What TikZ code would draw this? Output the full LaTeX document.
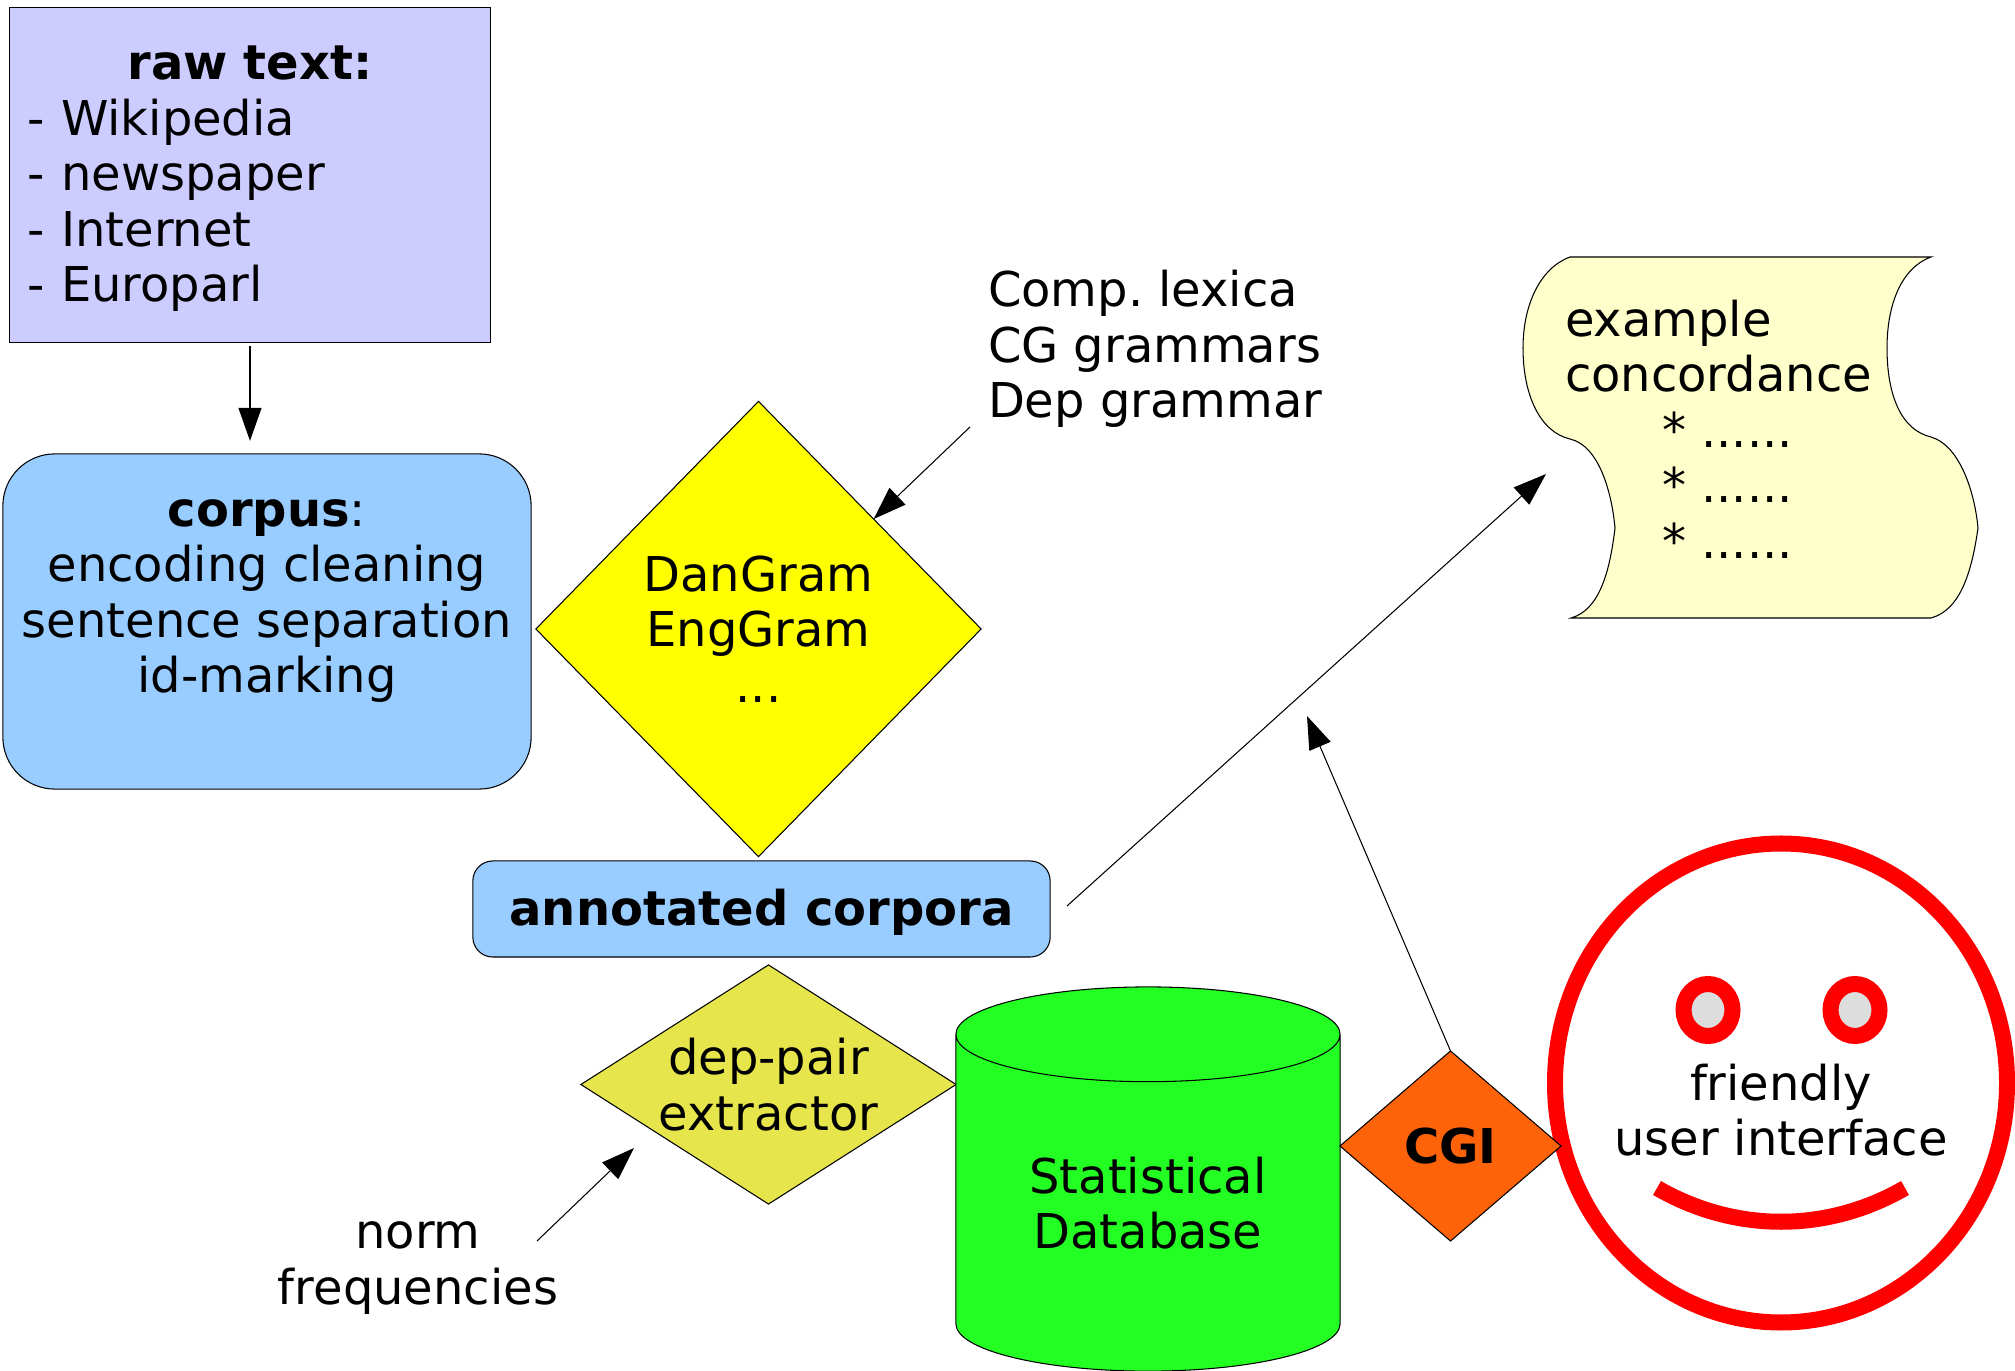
\documentclass[tikz,border=0pt]{standalone}
\usepackage{fontspec}
\setmainfont{DejaVu Sans}
\usetikzlibrary{arrows.meta,shapes.geometric}
\definecolor{rawblue}{HTML}{CCCCFF}
\definecolor{corpusblue}{HTML}{99CCFF}
\definecolor{gramyellow}{RGB}{255,255,0}
\definecolor{depolive}{HTML}{E6E64C}
\definecolor{dbgreen}{HTML}{23FF23}
\definecolor{cgiorange}{HTML}{FF6309}
\definecolor{scrollyellow}{HTML}{FFFFCC}

\begin{document}
\begin{tikzpicture}[x=0.01cm,y=-0.01cm,>={Triangle[length=3.3mm,width=2.3mm]},line width=0.3pt,
        every node/.style={font=\fontsize{13.64}{15.8}\selectfont\frenchspacing,align=center,inner sep=0pt,outer sep=0pt},
        box/.style={draw,rectangle},
        rhomb/.style={draw,diamond},
        face/.style={draw=red,line width=0.16cm}]
        \useasboundingbox (0,0) rectangle (2015,1371);

        \node[box,fill=rawblue,minimum width=4.8cm,minimum height=3.35cm,text width=4.44cm,align=left,text depth=63.85pt] (raw) at (250,175)
            {\makebox[\linewidth][c]{\textbf{raw text:}}\\- Wikipedia\\- newspaper\\- Internet\\- Europarl};
        \node[box,rounded corners=0.52cm,fill=corpusblue,minimum width=5.28cm,minimum height=3.35cm,text depth=14.5pt] (corpus) at (267,621.5)
            {\textbf{corpus}:\\encoding cleaning\\sentence separation\\id-marking};
        \node[rhomb,fill=gramyellow,minimum width=4.45cm,minimum height=4.55cm] (dangram) at (758.5,629) {DanGram\\EngGram\\...};
        \node[box,rounded corners=0.2cm,fill=corpusblue,minimum width=5.77cm,minimum height=0.96cm,font=\fontsize{13.64}{15.8}\selectfont\bfseries,text depth=1.07pt] (corpora) at (761.5,909) {annotated corpora};
        \node[rhomb,shape aspect=1.57,inner sep=-0.05cm,fill=depolive,minimum width=3.75cm,minimum height=2.39cm] (deppair) at (768.5,1084.5) {dep-pair\\extractor};
        \node[draw,cylinder,shape border rotate=90,aspect=0.4,fill=dbgreen,minimum width=3.84cm,minimum height=3.84cm] (database) at (1148,1203) {Statistical\\Database};

        \draw[face] (1781,1083) ellipse [x radius=226,y radius=239.5];
        \foreach \x in {1708,1855}{
            \draw[face,fill=black!13.3] (\x,1010) ellipse [x radius=24.5,y radius=26];
        }
        \draw[face] (1657,1188) .. controls (1735,1233) and (1827,1233) .. (1905,1188);
        \node (ui) at (1781,1110) {friendly\\user interface};
        \node[rhomb,fill=cgiorange,minimum width=2.21cm,minimum height=1.9cm,font=\fontsize{13.64}{15.8}\selectfont\bfseries] (cgi) at (1450.5,1146) {CGI};

        \draw[fill=scrollyellow] (1570,257) .. controls (1540,268) and (1523,305) .. (1523,348)
            .. controls (1523,395) and (1540,432) .. (1570,439)
            .. controls (1600,446) and (1612,495) .. (1615,528)
            .. controls (1610,570) and (1600,610) .. (1571,618) -- (1931,618)
            .. controls (1961,610) and (1972,570) .. (1978,528)
            .. controls (1975,495) and (1961,446) .. (1931,437)
            .. controls (1901,430) and (1887,395) .. (1887,348)
            .. controls (1887,305) and (1901,268) .. (1931,257) -- cycle;
        \node[anchor=west,align=left] (concordance) at (1565,429)
            {example\\concordance\\\hspace*{0.97cm}* ......\\\hspace*{0.97cm}* ......\\\hspace*{0.97cm}* ......};
        \node[anchor=west,align=left] (lexica) at (988,349) {Comp. lexica\\CG grammars\\Dep grammar};
        \node (norm) at (418,1268) {norm\\frequencies};

        \coordinate (lexicaout) at (970,427);
        \coordinate (corporaout) at (1067,906);
        \coordinate (concordancein) at (1546,474);
        \coordinate (cgitip) at (1307,716);
        \coordinate (normout) at (537,1241);
        \coordinate (deppairin) at (634,1148);

        \draw[->,shorten <=0.03cm,shorten >=0.13cm] (raw.south) -- (raw.south |- corpus.north);
        \draw[->] (lexicaout) -- (dangram);
        \draw[->] (corporaout) -- (concordancein);
        \draw[->] (cgi.north) -- (cgitip);
        \draw[->] (normout) -- (deppairin);
    \end{tikzpicture}
\end{document}
